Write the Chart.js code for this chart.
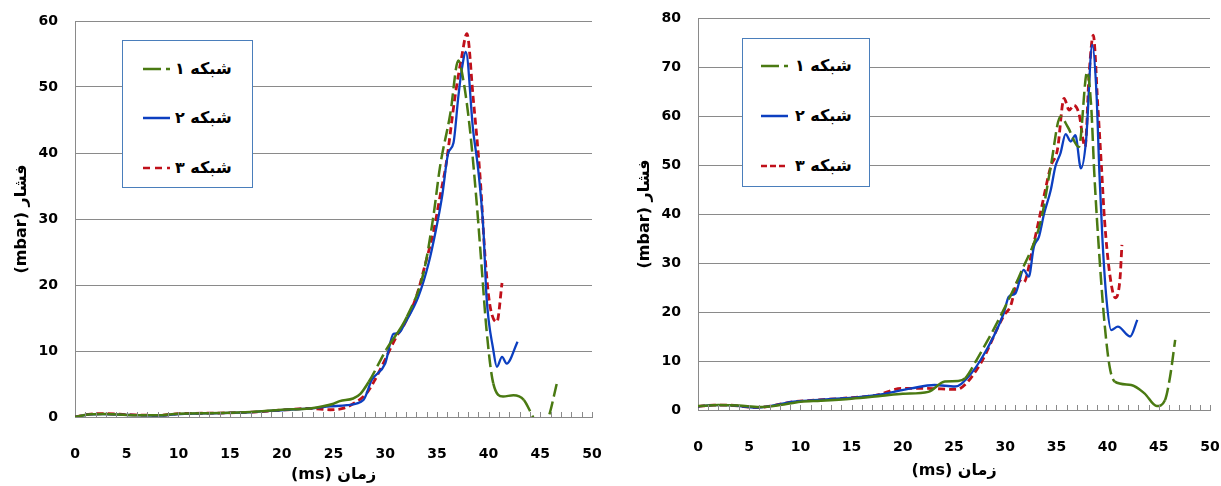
<!DOCTYPE html>
<html>
<head>
<meta charset="utf-8">
<script src="https://cdn.jsdelivr.net/npm/chart.js@4/dist/chart.umd.min.js"></script>
<style>
  html, body { margin: 0; padding: 0; background: #fff; }
  body { width: 1221px; height: 486px; position: relative; overflow: hidden; font-family: 'DejaVu Sans', sans-serif; }
  .wrap { position: absolute; top: 0; height: 486px; }
  .legend { position: absolute; box-sizing: border-box; border: 1px solid #4a7ebb; background: #fff; }
  .row { position: absolute; left: 0; width: 100%; height: 0; }
  .row svg { position: absolute; top: -3px; }
  .row span { position: absolute; top: 0; transform: translateY(-52%); font-weight: bold; font-size: 16px; color: #000; white-space: nowrap; }
</style>
</head>
<body>
<div class="wrap" id="w1" style="left:0;width:610px;"><canvas id="c1"></canvas></div>
<div class="wrap" id="w2" style="left:610px;width:611px;"><canvas id="c2"></canvas></div>

<div class="legend" style="left:122px;top:40px;width:131px;height:148px;">
  <div class="row" style="top:28px;"><svg width="27" height="6" style="left:20px"><line x1="0" y1="3" x2="27" y2="3" stroke="#4a7a12" stroke-width="2.5" stroke-dasharray="18 5"/></svg><span dir="rtl" style="left:52px">شبکه ۱</span></div>
  <div class="row" style="top:77px;"><svg width="27" height="6" style="left:20px"><line x1="0" y1="3" x2="27" y2="3" stroke="#0c3fc0" stroke-width="2.5"/></svg><span dir="rtl" style="left:52px">شبکه ۲</span></div>
  <div class="row" style="top:127px;"><svg width="27" height="6" style="left:20px"><line x1="0" y1="3" x2="27" y2="3" stroke="#c0101a" stroke-width="2.5" stroke-dasharray="7 5"/></svg><span dir="rtl" style="left:52px">شبکه ۳</span></div>
</div>
<div class="legend" style="left:742px;top:38px;width:128px;height:149px;">
  <div class="row" style="top:27px;"><svg width="27" height="6" style="left:18px"><line x1="0" y1="3" x2="27" y2="3" stroke="#4a7a12" stroke-width="2.5" stroke-dasharray="18 5"/></svg><span dir="rtl" style="left:52px">شبکه ۱</span></div>
  <div class="row" style="top:77px;"><svg width="27" height="6" style="left:18px"><line x1="0" y1="3" x2="27" y2="3" stroke="#0c3fc0" stroke-width="2.5"/></svg><span dir="rtl" style="left:52px">شبکه ۲</span></div>
  <div class="row" style="top:127px;"><svg width="27" height="6" style="left:18px"><line x1="0" y1="3" x2="27" y2="3" stroke="#c0101a" stroke-width="2.5" stroke-dasharray="6 3"/></svg><span dir="rtl" style="left:52px">شبکه ۳</span></div>
</div>

<script>
// ---------- data: left chart ----------
const leftX1 = [0, 1.5, 3, 5, 8, 10, 14, 17, 20, 22.7, 25.0, 25.6, 26.9, 27.6, 28.4, 30.1, 32.1, 33.7, 34.65, 35.3, 36.3, 37.07, 37.55, 38.2, 38.85, 39.3, 39.8, 40.45, 41.4, 42.4, 43.4, 44.2, 45.0, 45.8, 46.6];
const leftY1 = [0, 0.4, 0.45, 0.3, 0.25, 0.5, 0.6, 0.75, 1.1, 1.3, 2.0, 2.4, 2.8, 3.5, 5.3, 10.2, 15.2, 21.8, 30.3, 37.9, 46.0, 54.0, 51.1, 43.5, 32.4, 23.3, 13.2, 5.1, 3.1, 3.3, 2.6, 0.3, -2.0, 0.0, 5.1];

const leftX2 = [0, 1.45, 2.7, 5.3, 7.9, 10.15, 14.0, 17.2, 20.5, 22.7, 24.7, 26.3, 27.9, 28.7, 30.0, 30.8, 31.3, 31.9, 33.2, 34.2, 34.9, 35.5, 36.1, 36.6, 37.07, 37.4, 37.8, 38.5, 39.0, 39.5, 39.8, 40.45, 40.8, 41.3, 41.75, 42.8];
const leftY2 = [0, 0.4, 0.45, 0.3, 0.2, 0.45, 0.6, 0.75, 1.1, 1.3, 1.6, 1.8, 2.6, 5.6, 8.1, 12.6, 12.7, 14.2, 18.2, 23.3, 28.3, 33.4, 40.0, 41.5, 48.5, 52.6, 55.3, 43.5, 37.4, 28.3, 18.2, 10.2, 7.6, 9.1, 8.1, 11.4];

const leftX3 = [0, 1.5, 2.7, 5.3, 8, 10, 14, 17.2, 20.5, 22.7, 24.7, 25.9, 26.9, 28.2, 29.0, 29.8, 31.1, 31.9, 33.0, 33.9, 34.7, 35.3, 35.9, 36.75, 37.4, 37.9, 38.5, 39.2, 39.65, 40.1, 40.8, 41.3];
const leftY3 = [0, 0.45, 0.5, 0.35, 0.25, 0.5, 0.6, 0.75, 1.1, 1.3, 1.1, 1.3, 2.0, 3.6, 5.6, 8.1, 12.2, 14.2, 18.2, 23.3, 28.3, 33.4, 38.4, 48.5, 54.6, 58.1, 48.5, 35.9, 24.5, 17.2, 14.4, 20.3];

// ---------- data: right chart ----------
const rightX1 = [0, 2, 4, 6, 8, 10, 12, 15, 18, 20, 22.5, 24.1, 25.4, 26.1, 27.2, 29.5, 31.5, 33.5, 34.45, 35.4, 36.1, 37.2, 38.0, 38.4, 38.7, 39.2, 39.7, 40.2, 40.7, 42.3, 43.6, 44.8, 45.6, 46.1, 46.6];
const rightY1 = [0.8, 1.0, 0.9, 0.6, 1.0, 1.7, 1.9, 2.3, 2.9, 3.3, 3.7, 5.8, 5.9, 6.5, 10.2, 19.0, 27.9, 38.8, 49.7, 59.9, 57.8, 53.7, 69.0, 61.9, 48.3, 31.3, 17.7, 8.8, 5.8, 5.1, 3.4, 0.8, 2.0, 6.8, 14.3];

const rightX2 = [0, 1.5, 2.8, 5.7, 7.05, 9.35, 11.3, 14.3, 17.55, 20.8, 23.1, 25.1, 25.75, 27.6, 29.85, 30.35, 31.0, 31.8, 32.3, 32.8, 33.3, 33.8, 34.45, 34.9, 35.4, 35.9, 36.4, 36.85, 37.4, 37.9, 38.5, 38.9, 39.2, 39.5, 39.9, 40.35, 41.0, 42.2, 42.9];
const rightY2 = [0.7, 1.0, 1.0, 0.5, 0.8, 1.7, 2.0, 2.4, 3.1, 4.4, 5.1, 4.8, 5.4, 10.2, 19.7, 23.1, 23.8, 28.6, 27.2, 33.3, 35.4, 40.1, 44.9, 49.7, 52.4, 56.3, 54.8, 56.1, 49.3, 55.1, 74.5, 65.3, 48.3, 34.7, 22.4, 16.3, 17.0, 15.0, 18.4];

const rightX3 = [0, 1.5, 2.8, 5.7, 7.05, 9.35, 11.3, 14.3, 17.55, 19.85, 22.4, 25.1, 25.6, 27.6, 29.85, 30.5, 31.3, 31.8, 32.65, 33.5, 34.45, 35.1, 35.75, 36.25, 36.7, 37.2, 37.8, 38.2, 38.6, 39.05, 39.4, 39.7, 40.2, 40.75, 41.2, 41.4];
const rightY3 = [0.7, 1.0, 1.0, 0.5, 0.8, 1.7, 2.0, 2.4, 3.1, 4.4, 4.4, 4.2, 4.4, 9.5, 19.2, 21.1, 26.5, 26.0, 32.7, 40.8, 49.7, 53.1, 63.6, 61.2, 62.2, 60.5, 53.7, 68.7, 76.5, 61.9, 49.7, 38.8, 27.9, 22.9, 26.5, 33.7];

// ---------- axes / labels ----------
const xTitle = '(ms) زمان';
const yTitle = '(mbar) فشار';
const seriesNames = ['شبکه ۱', 'شبکه ۲', 'شبکه ۳'];
const xMin = 0, xMax = 50, xStep = 5;
const leftYMax = 60, rightYMax = 80, yStep = 10;

const GREEN = '#4a7a12', BLUE = '#0c3fc0', RED = '#c0101a';
const GRID = '#8a8a8a';
const FONT = "'DejaVu Sans', sans-serif";

function pts(xs, ys) { return xs.map((x, i) => ({ x: x, y: ys[i] })); }

const minorTicks = {
  id: 'minorTicks',
  afterDatasetsDraw(chart) {
    const ctx = chart.ctx, xs = chart.scales.x, b = chart.chartArea.bottom;
    ctx.save();
    ctx.strokeStyle = GRID;
    ctx.lineWidth = 1;
    ctx.beginPath();
    for (let v = xMin + 1; v <= xMax; v++) {
      const px = Math.round(xs.getPixelForValue(v)) + 0.5;
      ctx.moveTo(px, b);
      ctx.lineTo(px, b - 5);
    }
    ctx.stroke();
    ctx.restore();
  }
};

function makeChart(id, s, yMax, cfg) {
  const greenDash = ctx => {
    const a = ctx.p0.parsed, b = ctx.p1.parsed;
    const slope = Math.abs((b.y - a.y) / (b.x - a.x));
    return slope > 2.5 ? [13, 5] : undefined;
  };
  return new Chart(document.getElementById(id), {
    type: 'line',
    data: {
      datasets: [
        { label: seriesNames[0], data: pts(s[0], s[1]), borderColor: GREEN, borderWidth: 2.5, borderDash: [], segment: { borderDash: greenDash } },
        { label: seriesNames[1], data: pts(s[2], s[3]), borderColor: BLUE, borderWidth: 2.3 },
        { label: seriesNames[2], data: pts(s[4], s[5]), borderColor: RED, borderWidth: 2.8, borderDash: [7, 4] }
      ]
    },
    options: {
      responsive: true,
      maintainAspectRatio: false,
      animation: false,
      layout: { autoPadding: false, padding: { left: 0, right: cfg.padRight, top: cfg.padTop, bottom: 0 } },
      elements: { point: { radius: 0, hoverRadius: 0 }, line: { cubicInterpolationMode: 'monotone', fill: false } },
      plugins: { legend: { display: false }, tooltip: { enabled: false } },
      scales: {
        x: {
          type: 'linear', min: xMin, max: xMax,
          ticks: { stepSize: xStep, padding: 29, color: '#000', font: { family: FONT, size: 14, weight: 'bold' }, maxRotation: 0 },
          grid: { display: false, drawTicks: false },
          border: { display: true, color: GRID, width: 1 },
          title: { display: true, text: xTitle, color: '#000', font: { family: FONT, size: 16, weight: 'bold' }, padding: { top: 0, bottom: cfg.xTitlePad } },
          afterFit(scale) { scale.height = cfg.xHeight; scale.paddingLeft = 0; scale.paddingRight = 0; }
        },
        y: {
          type: 'linear', min: 0, max: yMax,
          ticks: { stepSize: yStep, padding: 17, color: '#000', font: { family: FONT, size: 14, weight: 'bold' } },
          grid: { color: GRID, lineWidth: 1, drawTicks: false },
          border: { display: true, color: GRID, width: 1 },
          title: { display: true, text: yTitle, color: '#000', font: { family: FONT, size: 16, weight: 'bold' }, padding: { top: cfg.yTitlePad, bottom: 0 } },
          afterFit(scale) { scale.width = cfg.yWidth; scale.paddingTop = 0; scale.paddingBottom = 0; }
        }
      }
    },
    plugins: [minorTicks]
  });
}

makeChart('c1', [leftX1, leftY1, leftX2, leftY2, leftX3, leftY3], leftYMax,
  { padRight: 18, padTop: 21, xHeight: 69, yWidth: 75, xTitlePad: 2, yTitlePad: 12 });
makeChart('c2', [rightX1, rightY1, rightX2, rightY2, rightX3, rightY3], rightYMax,
  { padRight: 11, padTop: 18, xHeight: 76, yWidth: 88, xTitlePad: 6, yTitlePad: 25 });
</script>
</body>
</html>
